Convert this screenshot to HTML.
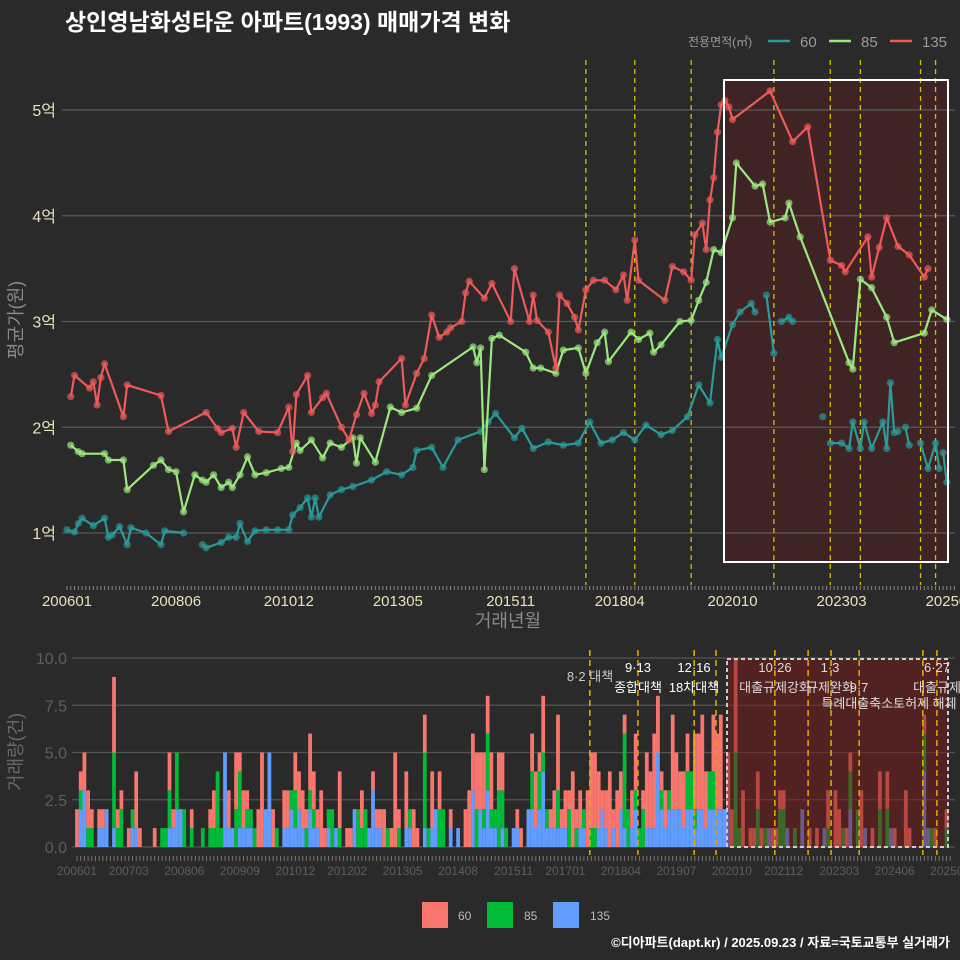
<!DOCTYPE html>
<html><head><meta charset="utf-8">
<style>
html,body{margin:0;padding:0;background:#2a2a2a;}
svg{display:block;}
text{font-family:"Liberation Sans","Noto Sans CJK KR",sans-serif;}
</style></head>
<body>
<svg id="chart" width="960" height="960" viewBox="0 0 960 960" xmlns="http://www.w3.org/2000/svg">
<rect x="0" y="0" width="960" height="960" fill="#2a2a2a"/>
<text x="65" y="30" font-size="23" font-weight="bold" fill="#ffffff">상인영남화성타운 아파트(1993) 매매가격 변화</text>
<g>
<text x="688" y="46" font-size="12" fill="#9a9a9a">전용면적(㎡)</text>
<line x1="768" y1="41" x2="790" y2="41" stroke="#2a9a9a" stroke-width="2.5"/>
<text x="800" y="47" font-size="15" fill="#9a9a9a">60</text>
<line x1="829" y1="41" x2="851" y2="41" stroke="#9be87f" stroke-width="2.5"/>
<text x="861" y="47" font-size="15" fill="#9a9a9a">85</text>
<line x1="890" y1="41" x2="912" y2="41" stroke="#ee5a5a" stroke-width="2.5"/>
<text x="922" y="47" font-size="15" fill="#9a9a9a">135</text>
</g>
<g id="topchart"></g>
<g id="bottomchart"></g>
<text transform="translate(22,320) rotate(-90)" text-anchor="middle" font-size="18" fill="#8a8a8a">평균가(원)</text>
<text x="508" y="627" text-anchor="middle" font-size="18" fill="#8a8a8a">거래년월</text>
<text transform="translate(22,752) rotate(-90)" text-anchor="middle" font-size="18" fill="#6a6a6a">거래량(건)</text>
<g>
<rect x="422" y="902" width="26" height="26" fill="#f8766d"/>
<text x="458" y="920" font-size="12" fill="#bbbbbb">60</text>
<rect x="487" y="902" width="26" height="26" fill="#00ba38"/>
<text x="524" y="920" font-size="12" fill="#bbbbbb">85</text>
<rect x="553" y="902" width="26" height="26" fill="#619cff"/>
<text x="590" y="920" font-size="12" fill="#bbbbbb">135</text>
</g>
<text x="950" y="947" text-anchor="end" font-size="13" font-weight="bold" fill="#ffffff">©디아파트(dapt.kr) / 2025.09.23 / 자료=국토교통부 실거래가</text>
</svg>
<script>
// ---------- top chart data ----------
const m135=[1,2,6,7,8,9,10,15,16,25,27,37,40,41,44,45,47,51,56,59,60,61,64,65,68,69,73,75,77,79,81,82,83,89,90,93,95,97,99,101,102,105,106,107,111,113,118,119,123,124,125,128,130,131,133,135,136,138,140,143,146,148,149,151,152,159,161,164,166,167,169,170,171,172,173,174,175,176,177,187,193,197,203,206,207,213,214,216,218,221,224,228,229];
const v135=[2.29,2.49,2.37,2.43,2.21,2.47,2.60,2.10,2.40,2.30,1.96,2.14,1.99,1.95,1.99,1.81,2.14,1.96,1.95,2.19,1.77,2.31,2.49,2.14,2.28,2.32,2.00,1.88,2.12,2.32,2.13,2.21,2.43,2.65,2.21,2.51,2.65,3.06,2.85,2.90,2.94,3.00,3.27,3.38,3.22,3.36,3.00,3.50,3.00,3.25,3.01,2.90,2.56,3.25,3.17,3.04,2.92,3.30,3.39,3.39,3.30,3.44,3.20,3.77,3.39,3.20,3.52,3.47,3.39,3.82,3.93,3.68,4.15,4.36,4.79,5.05,5.09,5.03,4.91,5.18,4.70,4.84,3.58,3.53,3.47,3.80,3.42,3.70,3.98,3.71,3.63,3.42,3.50];
const m85=[1,3,4,10,11,15,16,23,25,27,29,31,34,36,37,39,41,43,44,46,48,50,53,57,59,61,62,65,68,70,73,76,77,78,82,86,89,93,97,108,109,110,111,113,115,122,124,126,130,132,136,138,141,143,144,150,152,155,156,158,163,166,168,170,172,174,177,178,183,185,187,191,192,195,208,209,211,214,218,220,228,230,234];
const v85=[1.83,1.77,1.75,1.75,1.69,1.69,1.41,1.64,1.69,1.60,1.58,1.20,1.55,1.50,1.48,1.55,1.43,1.48,1.43,1.55,1.72,1.55,1.57,1.61,1.62,1.85,1.78,1.88,1.71,1.85,1.81,1.90,1.66,1.90,1.67,2.19,2.14,2.18,2.49,2.76,2.61,2.75,1.60,2.84,2.87,2.71,2.56,2.56,2.51,2.73,2.75,2.51,2.80,2.90,2.62,2.90,2.83,2.89,2.71,2.78,3.00,3.01,3.20,3.37,3.68,3.65,3.98,4.50,4.28,4.30,3.94,3.98,4.12,3.80,2.61,2.55,3.40,3.32,3.04,2.80,2.89,3.11,3.02];
const m60=[0,2,3,4,7,10,11,12,14,16,17,21,25,26,31,null,36,37,41,43,45,46,48,50,53,56,59,60,62,64,65,66,67,70,73,76,81,85,89,92,93,97,100,104,110,112,114,119,121,124,128,132,136,139,142,145,148,151,154,158,161,165,168,171,173,174,177,179,182,183,null,186,188,null,190,192,193,null,201,null,203,206,208,209,211,212,214,217,218,219,220,221,null,223,224,null,227,229,231,232,null,233,234];
const v60=[1.03,1.01,1.09,1.14,1.07,1.14,0.96,0.98,1.06,0.89,1.05,1.00,0.89,1.02,1.00,null,0.89,0.86,0.91,0.96,0.96,1.09,0.92,1.02,1.03,1.03,1.03,1.17,1.24,1.33,1.15,1.33,1.15,1.36,1.41,1.44,1.50,1.58,1.55,1.62,1.78,1.81,1.62,1.88,1.96,2.05,2.13,1.90,1.99,1.80,1.86,1.83,1.85,2.05,1.85,1.88,1.95,1.88,2.02,1.93,1.97,2.10,2.40,2.23,2.83,2.66,2.97,3.09,3.17,3.09,null,3.25,2.70,null,3.00,3.04,3.00,null,2.10,null,1.85,1.85,1.80,2.05,1.80,2.05,1.80,2.05,1.80,2.42,1.95,1.96,null,2.00,1.83,null,1.85,1.61,1.85,1.61,null,1.76,1.48];
const yTicks=[1,2,3,4,5];
const yTickLabels=["1억","2억","3억","4억","5억"];
const xTickMonths=[0,29,59,88,118,147,177,206,235];
const xTickLabels=["200601","200806","201012","201305","201511","201804","202010","202303","202508"];
const policyMonthsTop=[138,151,166,188,203,211,227,231];

// ---------- bottom chart data ----------
const vol135=[0,2,3,0,0,0,1,1,2,0, 1,0,0,0,0,1,1,0,0,0, 0,0,0,0,0,1,1,2,2,0, 0,0,0,0,0,0,0,0,0,0, 5,1,1,0,1,1,1,1,0,0, 0,2,5,0,0,0,1,1,2,1, 2,1,0,2,1,1,0,0,1,0, 1,0,0,0,0,2,0,0,0,1, 3,1,1,0,0,0,0,0,0,1, 1,0,0,0,1,0,1,2,0,0, 0,1,0,1,0,0,0,3,0,2, 1,3,1,1,0,1,0,0,1,1, 0,0,2,2,1,2,4,1,1,1, 1,1,1,0,0,0,1,1,0,0, 0,1,2,1,0,1,0,2,1,0, 1,2,0,0,1,1,1,5,2,1, 2,2,2,2,1,2,2,1,2,2, 1,2,2,2,2,2,2,0,0,0, 0,0,0,0,0,0,0,1,0,0, 0,0,1,0,0,0,2,0,0,0, 0,0,1,0,0,0,0,0,0,2, 0,0,0,1,0,0,0,0,0,0, 1,0,0,0,0,0,0,0,0,4, 1,0,0,0,0,0,0];
const vol85=[0,1,0,1,1,0,0,0,0,0, 4,1,2,0,0,1,0,0,0,0, 0,0,0,1,1,2,0,3,0,2, 0,1,0,0,1,0,1,1,4,1, 0,0,0,2,3,0,1,1,1,0, 0,0,0,0,1,0,0,0,1,2, 0,0,1,1,1,0,0,0,1,2, 0,1,0,0,0,0,2,1,2,0, 0,0,0,0,1,0,0,1,0,0, 1,0,0,0,4,1,0,0,2,2, 0,0,0,0,0,0,0,0,2,0, 1,3,1,1,3,2,1,0,0,0, 0,0,0,2,0,2,1,1,0,0, 2,0,0,2,0,1,0,1,0,1, 1,0,0,0,0,0,0,0,5,2, 0,1,1,2,0,0,0,0,1,0, 1,0,0,0,0,2,2,1,0,0, 0,2,2,0,0,0,0,0,5,1, 0,0,0,0,2,0,1,0,0,0, 2,2,0,0,1,0,0,0,0,0, 0,0,0,1,0,0,0,1,0,2, 0,2,0,0,0,0,0,2,0,2, 0,0,0,0,0,0,0,0,0,2, 0,1,0,0,0,1,0];
const vol60=[2,1,2,2,1,0,1,1,0,0, 4,1,1,0,1,0,3,1,0,0, 0,1,0,0,0,2,1,0,0,0, 0,1,0,0,0,0,1,2,0,0, 0,2,0,3,1,2,1,0,0,2, 5,0,0,2,0,0,2,2,0,2, 2,2,1,3,2,1,3,1,0,0, 0,3,0,1,1,0,0,2,0,0, 1,1,1,2,0,1,5,1,0,3, 0,2,1,0,2,0,3,0,2,0, 0,1,0,0,0,2,3,3,3,3, 3,2,3,0,2,2,0,0,0,1, 1,0,0,2,3,1,3,0,1,2, 4,1,2,1,4,1,2,0,3,4, 4,3,1,2,4,1,3,2,1,0, 2,3,0,1,4,3,5,3,1,2, 0,5,3,2,3,2,0,4,4,5, 3,0,3,4,5,0,3,2,5,0, 3,0,1,1,2,1,0,0,1,1, 1,1,0,0,0,0,0,0,1,0, 1,0,0,2,0,3,2,0,1,1, 0,0,3,0,0,1,0,2,0,2, 0,1,0,0,3,1,0,0,0,1, 0,0,1,0,0,1,0];
const volTicks=[0,2.5,5,7.5,10];
const volTickLabels=["0.0","2.5","5.0","7.5","10.0"];
const volXMonths=[0,14,29,44,59,73,88,103,118,132,147,162,177,191,206,221,236];
const volXLabels=["200601","200703","200806","200909","201012","201202","201305","201408","201511","201701","201804","201907","202010","202112","202303","202406","202509"];
const policyMonthsBottom=[138.6,151.6,166.8,172.7,188.6,197.6,203.8,211.4,228.6,232.4];

const NS="http://www.w3.org/2000/svg";
function mk(tag,attrs,parent){const e=document.createElementNS(NS,tag);for(const k in attrs)e.setAttribute(k,attrs[k]);parent.appendChild(e);return e;}
const xT=m=>67+3.76*m, yT=v=>533-(v-1)*105.75;
const xB=m=>77+3.70*m, yB=c=>847-c*18.9;

// ----- top -----
const topG=document.getElementById('topchart');
let r=mk('rect',{x:724,y:80,width:224,height:482,fill:'#5a1a20','fill-opacity':0.45,stroke:'none'},topG);


yTicks.forEach((t,i)=>{
  let l=mk('line',{x1:62,x2:955,y1:yT(t),y2:yT(t),stroke:'#5a5a5a','stroke-width':1.2},topG);
  
  
  let tx=mk('text',{x:56,y:yT(t)+6,'text-anchor':'end','font-size':16,fill:'#e8e2b8'},topG);
  
  
  tx.textContent=yTickLabels[i];
});
for(let m=0;m<=236;m++){
  let t=mk('line',{x1:xT(m),x2:xT(m),y1:586,y2:590,stroke:'#888','stroke-width':1},topG);
  
  
}
xTickMonths.forEach((m,i)=>{
  let tx=mk('text',{x:xT(m),y:606,'text-anchor':'middle','font-size':15,fill:'#e8e2b8'},topG);
  
  
  tx.textContent=xTickLabels[i];
});
policyMonthsTop.forEach(m=>{
  let l=mk('line',{x1:xT(m),x2:xT(m),y1:60,y2:585,stroke:'#d4c400','stroke-width':1.3,'stroke-dasharray':'5,4'},topG);
  
  
});
function series(ms,vs,color,name){
  let d='',pen=false;
  for(let i=0;i<ms.length;i++){
    if(ms[i]===null||vs[i]===null){pen=false;continue;}
    d+=(pen?'L':'M')+xT(ms[i]).toFixed(1)+','+yT(vs[i]).toFixed(1);pen=true;
  }
  let p=mk('path',{d:d,fill:'none',stroke:color,'stroke-width':2.2,'stroke-linejoin':'round'},topG);
  
  
  for(let i=0;i<ms.length;i++){
    if(ms[i]===null||vs[i]===null)continue;
    let c=mk('circle',{cx:xT(ms[i]),cy:yT(vs[i]),r:3.6,fill:color,'fill-opacity':0.7},topG);
    
    
  }
}
series(m60,v60,'#2a9a9a','60');
series(m85,v85,'#9be87f','85');
series(m135,v135,'#ee5a5a','135');
let hb=mk('rect',{x:724,y:80,width:224,height:482,fill:'none',stroke:'#ffffff','stroke-width':2},topG);



// ----- bottom -----
const botG=document.getElementById('bottomchart');
volTicks.forEach((t,i)=>{
  let l=mk('line',{x1:72,x2:955,y1:yB(t),y2:yB(t),stroke:'#555','stroke-width':1.2},botG);
  
  
  let tx=mk('text',{x:67,y:yB(t)+6,'text-anchor':'end','font-size':16,fill:'#5e5e5e'},botG);
  
  
  tx.textContent=volTickLabels[i];
});
const bw=3.75;
for(let m=0;m<vol60.length;m++){
  let base=0;
  [[vol135[m],'#619cff','135'],[vol85[m],'#00ba38','85'],[vol60[m],'#f8766d','60']].forEach(s=>{
    if(s[0]>0){
      let b=mk('rect',{x:xB(m)-bw/2,y:yB(base+s[0]),width:bw,height:s[0]*18.9,fill:s[1]},botG);
      
      
      base+=s[0];
    }
  });
}
for(let m=0;m<=236;m++){
  let t=mk('line',{x1:xB(m),x2:xB(m),y1:856,y2:861,stroke:'#777','stroke-width':1},botG);
  
  
}
volXMonths.forEach((m,i)=>{
  let tx=mk('text',{x:xB(m),y:875,'text-anchor':'middle','font-size':12,fill:'#5e5e5e'},botG);
  
  
  tx.textContent=volXLabels[i];
});
let br=mk('rect',{x:727,y:659,width:221,height:188,fill:'#7a1818','fill-opacity':0.5,stroke:'#cccccc','stroke-width':2,'stroke-dasharray':'4,3'},botG);


policyMonthsBottom.forEach((m,i)=>{
  let l=mk('line',{x1:xB(m),x2:xB(m),y1:650,y2:855,stroke:(i%2?'#e0a000':'#d4b000'),'stroke-width':1.6,'stroke-dasharray':'6,4'},botG);
  
  
});
const notes=[[590,681,'8·2 대책','#c8c8c8'],[638,672,'9·13','#ffffff'],[638,692,'종합대책','#ffffff'],[694,672,'12·16','#ffffff'],[694,692,'18차대책','#ffffff'],[775,672,'10·26','#dddddd'],[775,692,'대출규제강화','#dddddd'],[830,672,'1·3','#dddddd'],[830,692,'규제완화','#dddddd'],[859,692,'9·7','#dddddd'],[889,708,'특례대출축소토허제 해제','#dddddd'],[937,672,'6·27','#dddddd'],[937,692,'대출규제','#dddddd']];
notes.forEach(n=>{
  let tx=mk('text',{x:n[0],y:n[1],'text-anchor':'middle','font-size':13,fill:n[3]},botG);
  
  
  tx.textContent=n[2];
});
</script>
</body></html>
